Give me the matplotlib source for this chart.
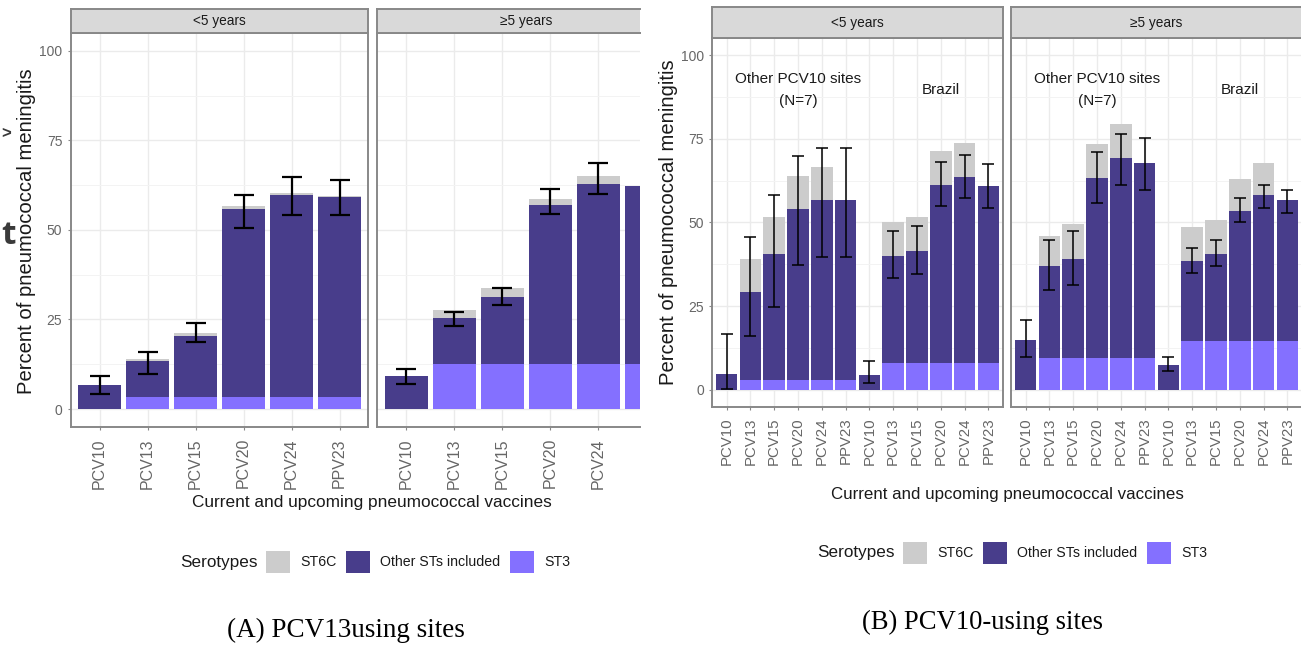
import matplotlib
matplotlib.use("Agg")
import matplotlib.pyplot as plt
from matplotlib.patches import Patch
from matplotlib.ticker import MultipleLocator
import numpy as np

plt.rcParams['font.family'] = ['Liberation Sans', 'DejaVu Sans']

# ---------------- data ----------------
vaccines = ["PCV10", "PCV13", "PCV15", "PCV20", "PCV24", "PPV23"]
facets = ["<5 years", "\u22655 years"]
serotypes = ["ST6C", "Other STs included", "ST3"]

# (A) PCV13-using sites
a_lt5_st3 = [0, 3.3, 3.3, 3.3, 3.3, 3.3]
a_lt5_other = [6.7, 10.2, 17.1, 52.6, 56.3, 55.8]
a_lt5_st6c = [0, 0.6, 0.7, 0.9, 0.8, 0.4]
a_lt5_lo = [4.3, 9.9, 18.7, 50.5, 54.1, 54.1]
a_lt5_hi = [9.1, 15.8, 24.0, 59.7, 64.8, 64.0]

a_ge5_st3 = [0, 12.6, 12.6, 12.6, 12.6, 12.6]
a_ge5_other = [9.1, 12.7, 18.6, 44.3, 50.2, 49.7]
a_ge5_st6c = [0, 2.4, 2.5, 1.7, 2.3, 0]
a_ge5_lo = [6.9, 23.2, 29.1, 54.4, 59.9, 57.5]
a_ge5_hi = [11.2, 27.2, 33.7, 61.3, 68.7, 67.0]

# (B) PCV10-using sites: other PCV10 sites (N=7) then Brazil
b_groups = ["Other PCV10 sites\n(N=7)", "Brazil"]
b_lt5_st3 = [0, 3.0, 3.0, 3.0, 3.0, 3.0, 0, 8.0, 8.0, 8.0, 8.0, 8.0]
b_lt5_other = [4.8, 26.3, 37.6, 51.0, 53.7, 53.7, 4.5, 32.1, 33.6, 53.1, 55.7, 52.8]
b_lt5_st6c = [0, 9.9, 10.9, 10.0, 10.0, 0, 0, 10.0, 10.1, 10.2, 9.9, 0]
b_lt5_lo = [0.2, 16.1, 24.9, 37.3, 39.8, 39.8, 2.0, 33.4, 34.7, 54.8, 57.3, 54.2]
b_lt5_hi = [16.7, 45.8, 58.3, 69.8, 72.2, 72.2, 8.7, 47.4, 48.9, 68.0, 70.1, 67.6]

b_ge5_st3 = [0, 9.5, 9.5, 9.5, 9.5, 9.5, 0, 14.7, 14.7, 14.7, 14.7, 14.7]
b_ge5_other = [14.8, 27.6, 29.7, 53.7, 59.7, 58.2, 7.5, 23.9, 26.0, 38.8, 43.6, 41.9]
b_ge5_st6c = [0, 8.9, 10.5, 10.3, 10.1, 0, 0, 10.1, 9.9, 9.5, 9.4, 0]
b_ge5_lo = [9.9, 29.9, 31.3, 55.7, 61.1, 59.7, 5.7, 34.9, 37.0, 50.0, 54.2, 52.7]
b_ge5_hi = [21.0, 44.8, 47.6, 71.0, 76.5, 75.2, 9.9, 42.5, 44.7, 57.3, 61.3, 59.7]

# ---------------- style ----------------
C_6C = "#CCCCCC"
C_OTHER = "#483D8B"
C_ST3 = "#8470FF"
BORDER = "#888888"
GRID = "#EBEBEB"
TICKC = "#666666"

W, H = 1301, 647
fig = plt.figure(figsize=(W / 100, H / 100), dpi=100)


def px_axes(l, t, r, b):
    return fig.add_axes([l / W, 1 - b / H, (r - l) / W, (b - t) / H])


def panel(rect, strip_top, xlim, labels, st3, other, st6c, lo, hi,
          strip_text, full_center, tick_fs, cap, elw, show_y, clip_right=False):
    l, t, r, b = rect
    ax = px_axes(l, t, r, b)
    x = np.arange(len(labels))
    ax.bar(x, st3, width=0.9, color=C_ST3, linewidth=0)
    ax.bar(x, other, width=0.9, bottom=st3, color=C_OTHER, linewidth=0)
    base = np.array(st3) + np.array(other)
    ax.bar(x, st6c, width=0.9, bottom=base, color=C_6C, linewidth=0)
    lo = np.array(lo); hi = np.array(hi)
    mid = (lo + hi) / 2
    vis = x < xlim[1]
    ax.errorbar(x[vis], mid[vis], yerr=((hi - lo) / 2)[vis], fmt='none',
                ecolor='black', elinewidth=elw, capsize=cap, capthick=elw)
    ax.set_xticks(x[vis])
    ax.set_xticklabels([lab for lab, v in zip(labels, vis) if v], rotation=90,
                       fontsize=tick_fs, color=TICKC)
    ax.set_xlim(*xlim)
    ax.set_ylim(-5, 105)
    ax.yaxis.set_major_locator(MultipleLocator(25))
    ax.yaxis.set_minor_locator(MultipleLocator(12.5))
    ax.set_axisbelow(True)
    ax.grid(True, which='major', color=GRID, linewidth=1.0)
    ax.grid(True, which='minor', axis='y', color='#F3F3F3', linewidth=0.7)
    ax.tick_params(axis='x', length=2.5, color=BORDER, pad=5.5)
    ax.tick_params(axis='y', which='major', length=2.5, color=BORDER, pad=3.5,
                   labelsize=10, labelcolor=TICKC)
    ax.tick_params(axis='y', which='minor', length=0)
    if not show_y:
        ax.tick_params(axis='y', which='major', labelleft=False, length=0)
    for sp in ax.spines.values():
        sp.set_color(BORDER)
        sp.set_linewidth(1.4)
    if clip_right:
        ax.spines['right'].set_visible(False)
    # strip
    sax = px_axes(l, strip_top, r, t)
    sax.set_facecolor("#D9D9D9")
    sax.set_xlim(*xlim)
    sax.set_ylim(0, 1)
    sax.set_xticks([]); sax.set_yticks([])
    for sp in sax.spines.values():
        sp.set_color(BORDER)
        sp.set_linewidth(1.4)
    if clip_right:
        sax.spines['right'].set_visible(False)
    sax.text(full_center, 0.5, strip_text, ha='center', va='center',
             fontsize=9.8, color='#1A1A1A')
    return ax


# ---- (A) ----
pxA = 48.0
a_right = -0.6 + (640 - 377.3) / pxA
axA1 = panel((70.7, 32.8, 368.3, 427.0), 9.3, (-0.6, 5.6), vaccines,
             a_lt5_st3, a_lt5_other, a_lt5_st6c, a_lt5_lo, a_lt5_hi,
             facets[0], 2.5, 11.5, 7, 1.6, True)
axA2 = panel((377.3, 32.8, 640.0, 427.0), 9.3, (-0.6, a_right), vaccines,
             a_ge5_st3, a_ge5_other, a_ge5_st6c, a_ge5_lo, a_ge5_hi,
             facets[1], 2.5, 11.5, 7, 1.6, False, clip_right=True)

fig.text(27 / W, 1 - 231 / H, "Percent of pneumococcal meningitis", rotation=90,
         ha='center', va='center', fontsize=14.6, color='#1A1A1A')
fig.text(372 / W, 1 - 503 / H, "Current and upcoming pneumococcal vaccines",
         ha='center', va='center', fontsize=12.4, color='#1A1A1A')

# ---- (B) ----
b_labels = vaccines + vaccines
pxB = 290.4 / 12.2
b_right = -0.6 + (1301 - 1011.3) / pxB
axB1 = panel((712.3, 38.3, 1002.7, 406.7), 6.7, (-0.6, 11.6), b_labels,
             b_lt5_st3, b_lt5_other, b_lt5_st6c, b_lt5_lo, b_lt5_hi,
             facets[0], 5.5, 10.8, 4.5, 1.1, True)
axB2 = panel((1011.3, 38.3, 1301.0, 406.7), 6.7, (-0.6, b_right), b_labels,
             b_ge5_st3, b_ge5_other, b_ge5_st6c, b_ge5_lo, b_ge5_hi,
             facets[1], 5.5, 10.8, 4.5, 1.1, False, clip_right=True)
for ax in (axB1, axB2):
    ax.text(3.0, 89.5, b_groups[0], ha='center', va='center', fontsize=11,
            color='#1A1A1A', linespacing=1.75)
    ax.text(9.0, 89.6, b_groups[1], ha='center', va='center', fontsize=11,
            color='#1A1A1A')

fig.text(668 / W, 1 - 222 / H, "Percent of pneumococcal meningitis", rotation=90,
         ha='center', va='center', fontsize=14.6, color='#1A1A1A')
fig.text(1007 / W, 1 - 495 / H, "Current and upcoming pneumococcal vaccines",
         ha='center', va='center', fontsize=12.2, color='#1A1A1A')

# ---- legends ----
handles = [Patch(facecolor=C_6C, edgecolor='none'),
           Patch(facecolor=C_OTHER, edgecolor='none'),
           Patch(facecolor=C_ST3, edgecolor='none')]


def add_legend(title_x, y, start_x):
    fig.text(title_x / W, 1 - y / H, "Serotypes", ha='left', va='center',
             fontsize=12.3, color='#1A1A1A')
    fig.legend(handles, serotypes, loc='center left',
               bbox_to_anchor=(start_x / W, 1 - y / H), ncol=3, frameon=False,
               fontsize=10.2, handlelength=1.7, handleheight=2.0,
               handletextpad=0.7, columnspacing=0.7, borderpad=0,
               borderaxespad=0, labelcolor='#1A1A1A')


add_legend(180, 562, 266)
add_legend(817, 553, 903)

# ---- panel titles ----
fig.text(346 / W, 1 - 630 / H, "(A) PCV13using sites", ha='center', va='center',
         fontsize=19.5, family=['Liberation Serif', 'DejaVu Serif'], color='black')
fig.text(982 / W, 1 - 622 / H, "(B) PCV10-using sites", ha='center', va='center',
         fontsize=19.2, family=['Liberation Serif', 'DejaVu Serif'], color='black')

# ---- fragments of slide text visible at the left edge ----
fig.text(1 / W, 1 - 134 / H, ">", ha='left', va='center', fontsize=12,
         fontweight='bold', color='#3A3A3A')
fig.text(1 / W, 1 - 236 / H, "t", ha='left', va='center', fontsize=24,
         fontweight='bold', family=['Open Sans', 'DejaVu Sans'], color='#3A3A3A')

fig.savefig("out.png", dpi=100)
